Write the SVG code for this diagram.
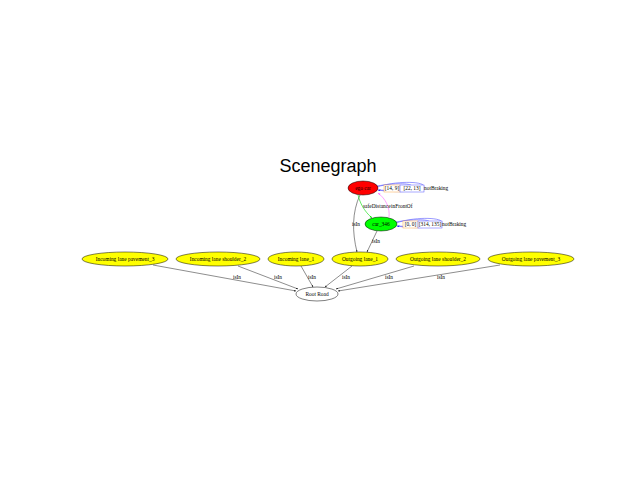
<svg xmlns="http://www.w3.org/2000/svg" width="640" height="480" viewBox="0 0 640 480">
<defs>
<style>
.t{font-family:"Liberation Serif",serif;font-size:5.4px;fill:#000}
.e{fill:none;stroke:#000;stroke-width:0.45}
.y{fill:#ffff00;stroke:#000;stroke-width:0.5}
.l{fill:none;stroke:#5555ff;stroke-width:0.6}
</style>
<marker id="a" viewBox="0 0 10 10" refX="10" refY="5" markerWidth="4" markerHeight="4" orient="auto"><path d="M0,1L10,5L0,9z" fill="#000"/></marker>
<marker id="ag" viewBox="0 0 10 10" refX="10" refY="5" markerWidth="4" markerHeight="4" orient="auto"><path d="M0,1L10,5L0,9z" fill="#00dd00"/></marker>
<marker id="ap" viewBox="0 0 10 10" refX="10" refY="5" markerWidth="4" markerHeight="4" orient="auto"><path d="M0,1L10,5L0,9z" fill="#ff66ff"/></marker>
<marker id="ab" viewBox="0 0 10 10" refX="10" refY="5" markerWidth="4" markerHeight="4" orient="auto"><path d="M0,1L10,5L0,9z" fill="#0000ff"/></marker>
</defs>
<rect width="640" height="480" fill="#fff"/>
<text x="328" y="172" font-family="Liberation Sans,sans-serif" font-size="18" text-anchor="middle">Scenegraph</text>
<g id="connectors">
<path class="e" d="M360,195 C352,212 352,232 357,252" marker-end="url(#a)"/>
<text class="t" x="356" y="226" text-anchor="middle">isIn</text>
<path d="M358,195 C360,203 364,211 372,218" fill="none" stroke="#00dd00" stroke-width="0.6" marker-end="url(#ag)"/>
<path d="M389,217 C390,208 386,199 378,193" fill="none" stroke="#ff66ff" stroke-width="0.6" marker-end="url(#ap)"/>
<text class="t" x="363" y="208">safeDistance</text>
<text class="t" x="391" y="208">inFrontOf</text>
<path class="e" d="M377,231 L367,252" marker-end="url(#a)"/>
<text class="t" x="376" y="243" text-anchor="middle">isIn</text>
<path class="l" d="M377,187 C395,181 422,181 424,186 C424,192 395,193 378,190" marker-end="url(#ab)"/>
<path class="l" d="M377,186 C395,183 410,183 412,186 C412,190 395,191 378,190"/>
<path class="l" d="M396,223 C413,217 440,217 442,222 C442,228 413,229 397,226" marker-end="url(#ab)"/>
<path class="l" d="M396,222 C413,219 428,219 430,222 C430,226 413,227 397,226"/>
<path class="e" d="M153,265 L296,291" marker-end="url(#a)"/>
<text class="t" x="237" y="279" text-anchor="middle">isIn</text>
<path class="e" d="M238,266 L298,289" marker-end="url(#a)"/>
<text class="t" x="278" y="279" text-anchor="middle">isIn</text>
<path class="e" d="M301,266 L313,287" marker-end="url(#a)"/>
<text class="t" x="312" y="279" text-anchor="middle">isIn</text>
<path class="e" d="M352,266 L325,287" marker-end="url(#a)"/>
<text class="t" x="346" y="279" text-anchor="middle">isIn</text>
<path class="e" d="M414,266 L336,289" marker-end="url(#a)"/>
<text class="t" x="389" y="279" text-anchor="middle">isIn</text>
<path class="e" d="M500,265 L338,291" marker-end="url(#a)"/>
<text class="t" x="441" y="279" text-anchor="middle">isIn</text>
</g>
<g id="ego_car">
<ellipse cx="363" cy="188" rx="15" ry="7" fill="#ff0000" stroke="#000" stroke-width="0.5"/>
<text class="t" x="363" y="190" text-anchor="middle">ego car</text>
</g>
<g id="ego_car_labels">
<rect x="384" y="185" width="16" height="7" fill="#fff" stroke="#ffaa44" stroke-width="0.5"/>
<text class="t" x="392" y="190" text-anchor="middle">[14, 9]</text>
<rect x="400" y="185" width="24" height="7" fill="#fff" stroke="#5555ff" stroke-width="0.5"/>
<text class="t" x="412" y="190" text-anchor="middle">[22, 13]</text>
<text class="t" x="424" y="190">notBraking</text>
</g>
<g id="car_346">
<ellipse cx="381" cy="224" rx="16" ry="7" fill="#00ff00" stroke="#000" stroke-width="0.5"/>
<text class="t" x="381" y="226" text-anchor="middle">car_346</text>
</g>
<g id="car_346_labels">
<rect x="403" y="221" width="15" height="7" fill="#fff" stroke="#ffaa44" stroke-width="0.5"/>
<text class="t" x="410.5" y="226" text-anchor="middle">[0, 0]</text>
<rect x="418" y="221" width="24" height="7" fill="#fff" stroke="#5555ff" stroke-width="0.5"/>
<text class="t" x="430" y="226" text-anchor="middle">[314, 135]</text>
<text class="t" x="442" y="226">notBraking</text>
</g>
<g id="in_pav3"><ellipse class="y" cx="125" cy="259" rx="43" ry="7"/><text class="t" x="125" y="261" text-anchor="middle">Incoming lane pavement_3</text></g>
<g id="in_sh2"><ellipse class="y" cx="218" cy="259" rx="42" ry="7"/><text class="t" x="218" y="261" text-anchor="middle">Incoming lane shoulder_2</text></g>
<g id="in_1"><ellipse class="y" cx="296" cy="259" rx="28" ry="7"/><text class="t" x="296" y="261" text-anchor="middle">Incoming lane_1</text></g>
<g id="out_1"><ellipse class="y" cx="360" cy="259" rx="28" ry="7"/><text class="t" x="360" y="261" text-anchor="middle">Outgoing lane_1</text></g>
<g id="out_sh2"><ellipse class="y" cx="438" cy="259" rx="42" ry="7"/><text class="t" x="438" y="261" text-anchor="middle">Outgoing lane shoulder_2</text></g>
<g id="out_pav3"><ellipse class="y" cx="531" cy="259" rx="43" ry="7"/><text class="t" x="531" y="261" text-anchor="middle">Outgoing lane pavement_3</text></g>
<g id="root_road"><ellipse cx="317" cy="294" rx="21" ry="7" fill="#fff" stroke="#000" stroke-width="0.5"/><text class="t" x="317" y="296" text-anchor="middle">Root Road</text></g>
</svg>
